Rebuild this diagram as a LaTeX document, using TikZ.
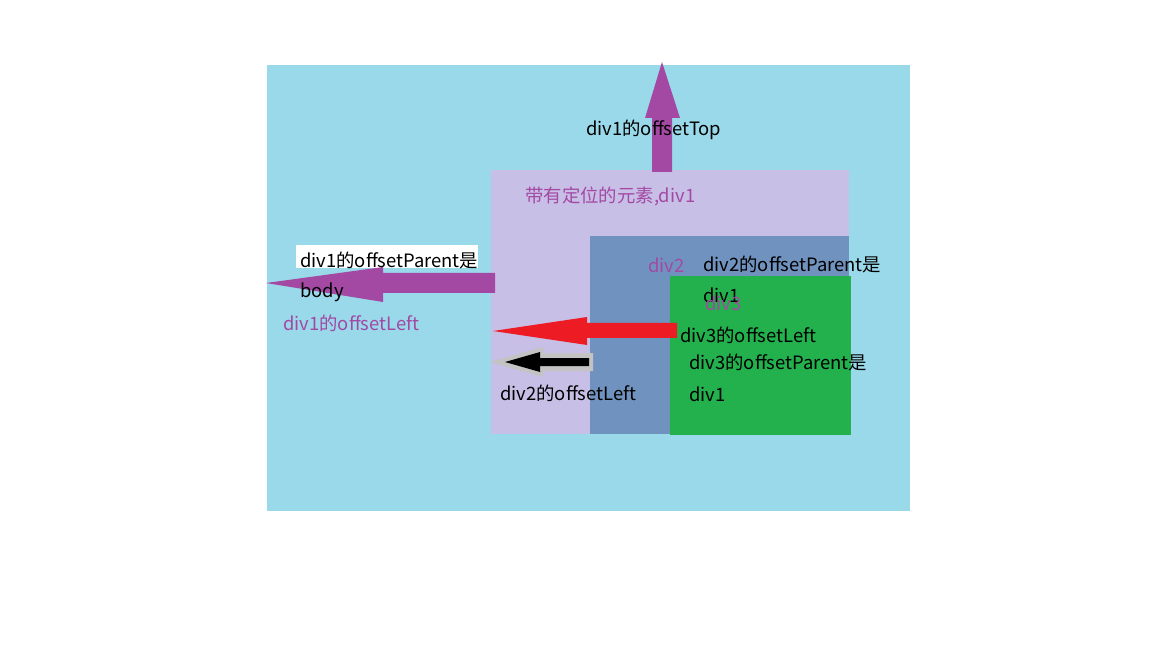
\documentclass[tikz,border=0pt]{standalone}
\usepackage{fontspec}
\setmainfont{Noto Sans CJK SC}
\usepackage{xcolor}
\definecolor{pageblue}{HTML}{99D9EA}
\definecolor{divlav}{HTML}{C8BFE7}
\definecolor{divsteel}{HTML}{7092BE}
\definecolor{divgreen}{HTML}{22B14C}
\definecolor{arrpurple}{HTML}{A349A4}
\definecolor{arrred}{HTML}{ED1C24}
\definecolor{arrgray}{HTML}{C3C3C3}

\begin{document}
\begin{tikzpicture} [ x=0.75pt, y=-0.75pt,
    txt/.style={anchor=west, inner sep=0pt, font=\fontsize{13.8}{16}\selectfont},
    ptxt/.style={txt, text=arrpurple},
    ]
    \useasboundingbox (0,0) rectangle (1152,648);
    \fill[white] (0,0) rectangle (1152,648);

    % the boxes
    \fill[pageblue] (267,65) rectangle (910,511);
    \fill[divlav] (491,170) rectangle (849,434);
    \fill[divsteel] (590,236) rectangle (849,434);
    \fill[divgreen] (670,276) rectangle (851,435);
    \fill[white] (296,245) rectangle (478,268);

    % the arrows
    \fill[arrpurple] (652,172) -- (652,118) -- (645,118) -- (662,62)
    -- (680,118) -- (672,118) -- (672,172) -- cycle;
    \fill[arrpurple] (495,273) -- (383,273) -- (383,267) -- (266,283)
    -- (383,302) -- (383,293) -- (495,293) -- cycle;
    \fill[arrred] (677,323) -- (587,323) -- (587,317) -- (493,331)
    -- (587,345) -- (587,338) -- (677,338) -- cycle;
    \fill[arrgray] (593,353) -- (543,353) -- (543,347) -- (490,362)
    -- (543,377) -- (543,371) -- (593,371) -- cycle;
    \fill[black] (589,358) -- (540,358) -- (540,352) -- (505,362)
    -- (540,372) -- (540,366) -- (589,366) -- cycle;

    % the texts
    \node[txt] (top) at (586,130) {div1的offsetTop};
    \node[ptxt] (div1) at (525,196) {带有定位的元素,div1};
    \node[txt] (par1) at (300,260) {div1的offsetParent是};
    \node[txt] (body) at (300,292) {body};
    \node[ptxt] (left1) at (283,323) {div1的offsetLeft};
    \node[ptxt] (div2) at (648,265) {div2};
    \node[txt] (par2) at (703,264) {div2的offsetParent是};
    \node[txt] (par2b) at (703,295) {div1};
    \node[ptxt] (div3) at (705,303) {div3};
    \node[txt] (left3) at (680,335) {div3的offsetLeft};
    \node[txt] (par3) at (689,362) {div3的offsetParent是};
    \node[txt] (par3b) at (689,394) {div1};
    \node[txt] (left2) at (500,393) {div2的offsetLeft};

\end{tikzpicture}
\end{document}
